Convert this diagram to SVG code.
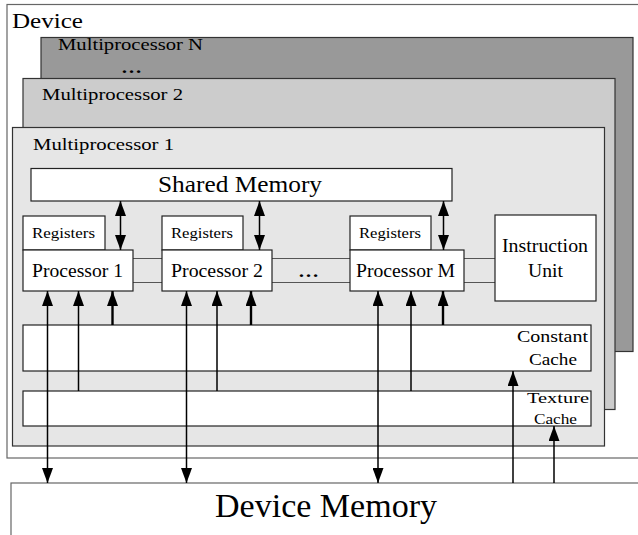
<svg xmlns="http://www.w3.org/2000/svg" width="638" height="535" viewBox="0 0 638 535">
  <style>
    text { font-family: "Times New Roman", "Liberation Serif", Tinos, Times, serif; fill: #000; }
    .box { fill: #fff; stroke: #222; stroke-width: 1.2; }
    .frame { fill: #fff; stroke: #666; stroke-width: 1.2; }
    .mp { stroke: #333; stroke-width: 1.2; }
    .bus { fill: none; stroke: #555; stroke-width: 1.2; }
    .wire { fill: none; stroke: #000; stroke-width: 1.5; }
    .wire-thick { fill: none; stroke: #000; stroke-width: 2.4; }
  </style>
  <defs>
    <marker id="tip" markerUnits="userSpaceOnUse" markerWidth="15" markerHeight="11" viewBox="0 0 15 11" refX="15" refY="5.5" orient="auto">
      <path d="M0,0 L15,5.5 L0,11 Z" fill="#000"/>
    </marker>
    <marker id="tail" markerUnits="userSpaceOnUse" markerWidth="15" markerHeight="11" viewBox="0 0 15 11" refX="0" refY="5.5" orient="auto">
      <path d="M15,0 L0,5.5 L15,11 Z" fill="#000"/>
    </marker>
  </defs>

  <rect width="638" height="535" fill="#fff"/>

  <!-- outer device frame -->
  <g id="device">
    <rect class="frame" x="7" y="4.5" width="640" height="453.5"/>
    <text x="12" y="28" font-size="22" textLength="71" lengthAdjust="spacingAndGlyphs">Device</text>
  </g>

  <!-- stacked multiprocessors -->
  <g id="mp-n">
    <rect class="mp" x="41" y="37.5" width="592" height="314" fill="#999999"/>
    <text x="58" y="50" font-size="17" textLength="145" lengthAdjust="spacingAndGlyphs">Multiprocessor  N</text>
    <text x="121" y="73" font-size="17" font-weight="bold" textLength="21" lengthAdjust="spacingAndGlyphs">…</text>
  </g>
  <g id="mp-2">
    <rect class="mp" x="23" y="78.5" width="592" height="331" fill="#cccccc"/>
    <text x="42" y="100" font-size="17" textLength="141" lengthAdjust="spacingAndGlyphs">Multiprocessor  2</text>
  </g>
  <g id="mp-1">
    <rect class="mp" x="12.5" y="127.5" width="592" height="318.5" fill="#e6e6e6"/>
    <text x="33" y="150" font-size="17" textLength="141" lengthAdjust="spacingAndGlyphs">Multiprocessor  1</text>
  </g>

  <!-- processor bus -->
  <g id="bus">
    <path class="bus" d="M133,258.5 H162 M133,282.5 H162 M272,258.5 H350 M272,282.5 H350 M464,258.5 H495 M464,282.5 H495"/>
    <text x="298" y="277" font-size="17" font-weight="bold" textLength="21" lengthAdjust="spacingAndGlyphs">…</text>
  </g>

  <g id="shared-memory">
    <rect class="box" x="31" y="168.5" width="421" height="32.5"/>
    <text x="158" y="192" font-size="23" textLength="164" lengthAdjust="spacingAndGlyphs">Shared Memory</text>
  </g>

  <g id="registers-1">
    <rect class="box" x="23" y="216" width="82" height="34"/>
    <text x="32" y="238" font-size="15" textLength="63" lengthAdjust="spacingAndGlyphs">Registers</text>
  </g>
  <g id="processor-1">
    <rect class="box" x="23" y="250" width="110" height="41"/>
    <text x="32" y="277" font-size="18" textLength="91" lengthAdjust="spacingAndGlyphs">Processor 1</text>
  </g>

  <g id="registers-2">
    <rect class="box" x="162" y="216" width="81" height="34"/>
    <text x="171" y="238" font-size="15" textLength="62" lengthAdjust="spacingAndGlyphs">Registers</text>
  </g>
  <g id="processor-2">
    <rect class="box" x="162" y="250" width="110" height="41"/>
    <text x="171" y="277" font-size="18" textLength="92" lengthAdjust="spacingAndGlyphs">Processor 2</text>
  </g>

  <g id="registers-m">
    <rect class="box" x="350" y="216" width="81" height="34"/>
    <text x="359" y="238" font-size="15" textLength="62" lengthAdjust="spacingAndGlyphs">Registers</text>
  </g>
  <g id="processor-m">
    <rect class="box" x="350" y="250" width="114" height="41"/>
    <text x="356" y="277" font-size="18" textLength="99" lengthAdjust="spacingAndGlyphs">Processor M</text>
  </g>

  <g id="instruction-unit">
    <rect class="box" x="495" y="215" width="101" height="86"/>
    <text x="502" y="252" font-size="18" textLength="86" lengthAdjust="spacingAndGlyphs">Instruction</text>
    <text x="528" y="277" font-size="18" textLength="35" lengthAdjust="spacingAndGlyphs">Unit</text>
  </g>

  <g id="constant-cache">
    <rect class="box" x="23" y="325" width="568" height="46"/>
    <text x="517" y="342" font-size="17" textLength="71" lengthAdjust="spacingAndGlyphs">Constant</text>
    <text x="529" y="365" font-size="17" textLength="48" lengthAdjust="spacingAndGlyphs">Cache</text>
  </g>

  <g id="texture-cache">
    <rect class="box" x="23" y="391" width="568" height="35"/>
    <text x="527" y="403" font-size="14" textLength="62" lengthAdjust="spacingAndGlyphs">Texture</text>
    <text x="534" y="424" font-size="14" textLength="43" lengthAdjust="spacingAndGlyphs">Cache</text>
  </g>

  <g id="device-memory">
    <rect class="frame" x="11" y="483" width="640" height="60"/>
    <text x="215" y="517" font-size="33" textLength="222" lengthAdjust="spacingAndGlyphs">Device Memory</text>
  </g>

  <!-- connectors -->
  <g id="connectors">
    <!-- shared memory <-> processors -->
    <path class="wire" d="M120.5,201 V250" marker-start="url(#tail)" marker-end="url(#tip)"/>
    <path class="wire" d="M259.5,201 V250" marker-start="url(#tail)" marker-end="url(#tip)"/>
    <path class="wire" d="M443.5,201 V250" marker-start="url(#tail)" marker-end="url(#tip)"/>

    <!-- device memory <-> processors -->
    <path class="wire" d="M47.5,291 V483" marker-start="url(#tail)" marker-end="url(#tip)"/>
    <path class="wire" d="M186.5,291 V483" marker-start="url(#tail)" marker-end="url(#tip)"/>
    <path class="wire" d="M378,291 V483" marker-start="url(#tail)" marker-end="url(#tip)"/>

    <!-- texture cache -> processors -->
    <path class="wire" d="M78.5,391 V291" marker-end="url(#tip)"/>
    <path class="wire" d="M217,391 V291" marker-end="url(#tip)"/>
    <path class="wire" d="M411,391 V291" marker-end="url(#tip)"/>

    <!-- constant cache -> processors -->
    <path class="wire-thick" d="M112.5,325 V291" marker-end="url(#tip)"/>
    <path class="wire-thick" d="M251,325 V291" marker-end="url(#tip)"/>
    <path class="wire-thick" d="M443,325 V291" marker-end="url(#tip)"/>

    <!-- device memory -> caches -->
    <path class="wire" d="M513,483 V371" marker-end="url(#tip)"/>
    <path class="wire" d="M554,483 V426" marker-end="url(#tip)"/>
  </g>
</svg>
